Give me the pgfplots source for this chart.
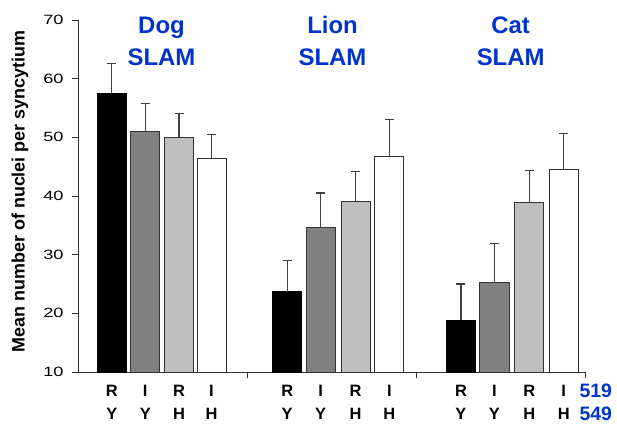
\documentclass[border=0pt]{standalone}
\usepackage{fontspec}
\setmainfont{Liberation Sans}
\usepackage{graphicx}
\usepackage{pgfplots}
\pgfplotsset{compat=1.18}
\definecolor{ttlblue}{RGB}{0,51,204}
\begin{document}
\begin{tikzpicture}
\begin{axis}[
  scale only axis, width=507bp, height=352bp,
  xmin=0, xmax=15, ymin=10, ymax=70,
  axis x line=bottom, axis y line=left,
  axis line style={-, line width=0.8bp, black!80},
  xtick={5,10,15}, xticklabels={},
  ytick={10,20,...,70},
  yticklabel={\scalebox{1.35}[1]{\pgfmathprintnumber[assume math mode=true]{\tick}}},
  yticklabel style={font=\fontsize{13.5}{13.5}\selectfont, xshift=-5bp},
  tick align=outside, major tick length=6bp,
  tick style={line width=0.8bp, black!80},
  clip=false,
  error bars/y dir=plus, error bars/y explicit,
  error bars/error bar style={line width=1.2bp, black!75},
  error bars/error mark options={rotate=90, line width=1.2bp, black!75, mark size=4.5bp},
]
\addplot[ybar, bar shift=0pt, bar width=0.86, fill=black, draw=black, line width=0.8bp]
  coordinates {(1,57.5) +- (0,5.1) (6.19,23.7) +- (0,5.3) (11.33,18.8) +- (0,6.2)};
\addplot[ybar, bar shift=0pt, bar width=0.86, fill=black!50, draw=black!80, line width=0.8bp]
  coordinates {(1.99,51.0) +- (0,4.7) (7.18,34.6) +- (0,5.9) (12.32,25.2) +- (0,6.7)};
\addplot[ybar, bar shift=0pt, bar width=0.86, fill=black!25, draw=black!80, line width=0.8bp]
  coordinates {(2.99,50.0) +- (0,4.0) (8.21,39.1) +- (0,5.1) (13.35,38.9) +- (0,5.5)};
\addplot[ybar, bar shift=0pt, bar width=0.86, fill=white, draw=black!80, line width=0.8bp]
  coordinates {(3.95,46.4) +- (0,4.1) (9.21,46.8) +- (0,6.2) (14.37,44.6) +- (0,6.0)};
% titles
\tikzset{ttl/.style={anchor=base, text=ttlblue, font=\fontsize{24}{24}\selectfont\bfseries, inner sep=0pt}}
\node[ttl] at (axis cs:2.47,67.73) {Dog};
\node[ttl] at (axis cs:2.47,62.19) {SLAM};
\node[ttl] at (axis cs:7.53,67.73) {Lion};
\node[ttl] at (axis cs:7.53,62.19) {SLAM};
\node[ttl] at (axis cs:12.8,67.73) {Cat};
\node[ttl] at (axis cs:12.8,62.19) {SLAM};
% x labels
\tikzset{xl/.style={anchor=base, font=\fontsize{16.5}{16.5}\selectfont\bfseries, inner sep=0pt}}
\node[xl] at (axis cs:1,5.8) {R};     \node[xl] at (axis cs:1,1.9) {Y};
\node[xl] at (axis cs:1.99,5.8) {I};  \node[xl] at (axis cs:1.99,1.9) {Y};
\node[xl] at (axis cs:2.99,5.8) {R};  \node[xl] at (axis cs:2.99,1.9) {H};
\node[xl] at (axis cs:3.95,5.8) {I};  \node[xl] at (axis cs:3.95,1.9) {H};
\node[xl] at (axis cs:6.19,5.8) {R};  \node[xl] at (axis cs:6.19,1.9) {Y};
\node[xl] at (axis cs:7.18,5.8) {I};  \node[xl] at (axis cs:7.18,1.9) {Y};
\node[xl] at (axis cs:8.21,5.8) {R};  \node[xl] at (axis cs:8.21,1.9) {H};
\node[xl] at (axis cs:9.21,5.8) {I};  \node[xl] at (axis cs:9.21,1.9) {H};
\node[xl] at (axis cs:11.33,5.8) {R}; \node[xl] at (axis cs:11.33,1.9) {Y};
\node[xl] at (axis cs:12.32,5.8) {I}; \node[xl] at (axis cs:12.32,1.9) {Y};
\node[xl] at (axis cs:13.35,5.8) {R}; \node[xl] at (axis cs:13.35,1.9) {H};
\node[xl] at (axis cs:14.37,5.8) {I}; \node[xl] at (axis cs:14.37,1.9) {H};
\node[anchor=base, font=\fontsize{19.5}{19.5}\selectfont\bfseries, text=ttlblue, inner sep=0pt] at (axis cs:15.32,5.7) {519};
\node[anchor=base, font=\fontsize{19.5}{19.5}\selectfont\bfseries, text=ttlblue, inner sep=0pt] at (axis cs:15.32,1.8) {549};
% y label
\node[rotate=90, font=\fontsize{18}{18}\selectfont\bfseries, inner sep=0pt] at ([xshift=-58bp]axis description cs:0,0.513) {Mean number of nuclei per syncytium};
\end{axis}
\pgfresetboundingbox
\path[use as bounding box] (-78bp,-52bp) rectangle (539bp,372bp);
\end{tikzpicture}
\end{document}
